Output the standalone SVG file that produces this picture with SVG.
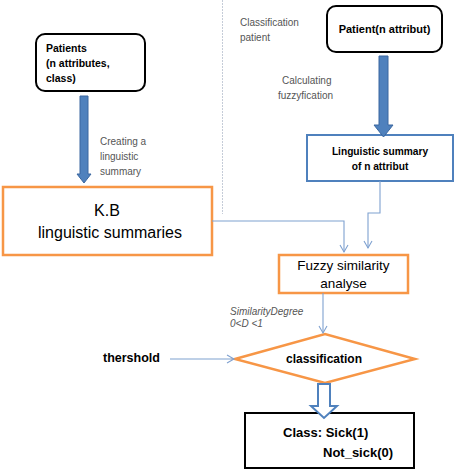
<svg xmlns="http://www.w3.org/2000/svg" width="455" height="470" viewBox="0 0 455 470">
<defs>
<style>
.t{font-family:"Liberation Sans",Arial,sans-serif;fill:#000}
.b{font-weight:bold}
.g{font-family:"Liberation Sans",Arial,sans-serif;fill:#555;font-size:10px}
.round{fill:#fff;stroke:#000;stroke-width:2}
.org{fill:#fff;stroke:#F79646;stroke-width:2.5}
.blu{fill:#fff;stroke:#4F81BD;stroke-width:2}
.con{fill:none;stroke:#7FA1D0;stroke-width:1.1}
.thick{fill:#4F81BD;stroke:#3A67A0;stroke-width:1}
</style>
<marker id="ah" markerWidth="10" markerHeight="10" refX="8" refY="5" orient="auto" markerUnits="userSpaceOnUse">
<path d="M1,1 L8,5 L1,9" fill="none" stroke="#7FA1D0" stroke-width="1.1"/>
</marker>
</defs>
<rect width="455" height="470" fill="#fff"/>
<line x1="222.5" y1="0" x2="222.5" y2="214" stroke="#C5CCD8" stroke-width="1" stroke-dasharray="2,1"/>

<g id="patients">
<rect class="round" x="36" y="34" width="109" height="57" rx="9"/>
<text class="t b" font-size="10.5" x="46" y="52">Patients</text>
<text class="t b" font-size="10.5" x="46" y="67">(n attributes,</text>
<text class="t b" font-size="10.5" x="46" y="82">class)</text>
</g>

<g id="patient-n">
<rect class="round" x="327" y="6" width="115" height="46" rx="9"/>
<text class="t b" font-size="11" x="384.5" y="33" text-anchor="middle">Patient(n attribut)</text>
</g>

<g id="kb">
<rect class="org" x="3" y="187" width="209" height="68"/>
<text class="t" font-size="16" x="107" y="216" text-anchor="middle">K.B</text>
<text class="t" font-size="16" x="110" y="238" text-anchor="middle">linguistic summaries</text>
</g>

<g id="ling-summary">
<rect class="blu" x="307" y="135" width="146" height="46"/>
<text class="t b" font-size="10.2" x="380" y="155" text-anchor="middle">Linguistic summary</text>
<text class="t b" font-size="10.2" x="380" y="170" text-anchor="middle">of n attribut</text>
</g>

<g id="fuzzy">
<rect class="org" x="279" y="255" width="129" height="38"/>
<text class="t" font-size="13.5" x="343.5" y="270" text-anchor="middle">Fuzzy similarity</text>
<text class="t" font-size="13.5" x="343.5" y="288" text-anchor="middle">analyse</text>
</g>

<g id="classification">
<polygon class="org" points="235,359 325,334 415,359 325,383"/>
<text class="t b" font-size="12" x="324" y="363" text-anchor="middle">classification</text>
</g>

<g id="threshold">
<text class="t b" font-size="12.5" x="103" y="362">thershold</text>
</g>

<g id="class">
<rect class="round" x="245" y="413" width="169" height="55"/>
<text class="t b" font-size="13" x="283" y="437">Class: Sick(1)</text>
<text class="t b" font-size="13" x="323" y="457">Not_sick(0)</text>
</g>

<g id="labels">
<text class="g" x="100" y="145">Creating a</text>
<text class="g" x="100" y="160">linguistic</text>
<text class="g" x="100" y="175">summary</text>
<text class="g" x="240" y="26">Classification</text>
<text class="g" x="240" y="41">patient</text>
<text class="g" x="282" y="84">Calculating</text>
<text class="g" x="278" y="99">fuzzyfication</text>
<text class="g" font-style="italic" font-size="9" x="230" y="315">SimilarityDegree</text>
<text class="g" font-style="italic" font-size="9" x="230" y="327">0&lt;D &lt;1</text>
</g>

<g id="connectors">
<polygon class="thick" points="80,96 88,96 88,174 91,174 84,183 77,174 80,174"/>
<polygon class="thick" points="379,56 388,56 388,125 393,125 383.5,137 374,125 379,125"/>
<polyline class="con" points="212,221 344,221 344,252" marker-end="url(#ah)"/>
<polyline class="con" points="380,181 380,213 368,213 368,248" marker-end="url(#ah)"/>
<line class="con" x1="323" y1="293" x2="323" y2="333" marker-end="url(#ah)"/>
<line class="con" x1="170" y1="359" x2="234" y2="359" marker-end="url(#ah)"/>
<polygon points="318,384 330,384 330,406 337,406 324,418 311,406 318,406" fill="#fff" stroke="#4F81BD" stroke-width="2"/>
</g>
</svg>
